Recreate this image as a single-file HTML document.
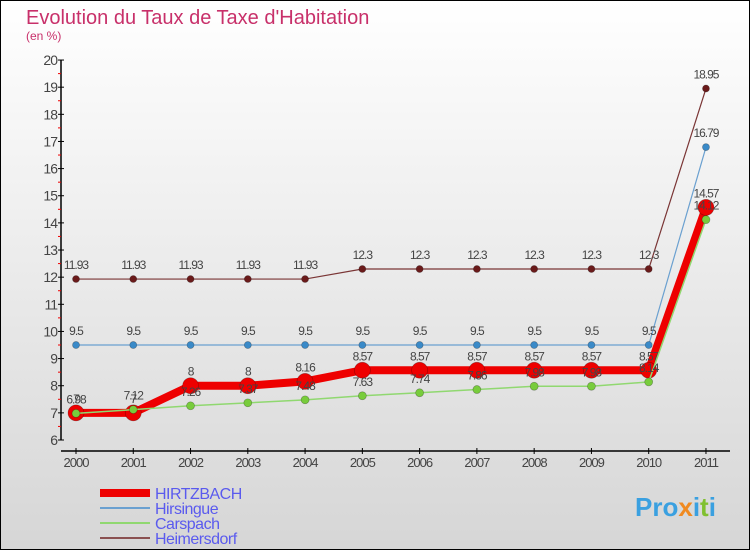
<!DOCTYPE html>
<html><head><meta charset="utf-8"><style>
body{margin:0;}
#c{width:750px;height:550px;position:relative;overflow:hidden;box-sizing:border-box;border:1px solid #000;background:linear-gradient(#ffffff,#d6d6d6);font-family:"Liberation Sans",sans-serif;}
</style></head><body>
<div id="c">
<svg id="s" width="750" height="550" style="position:absolute;left:-1px;top:-1px">
<text x="26" y="24" font-size="20" fill="#c8306a">Evolution du Taux de Taxe d'Habitation</text>
<text x="26" y="40" font-size="12" fill="#c8306a">(en %)</text>
<g id="g"></g>
<text x="635" y="516" font-size="26" font-weight="bold" fill="#3aa0e0">Pro<tspan fill="#f08a20">x</tspan><tspan fill="#3aa0e0">i</tspan><tspan fill="#80c030">t</tspan><tspan fill="#3aa0e0">i</tspan></text>
</svg>
</div>
<script>
const years=[2000,2001,2002,2003,2004,2005,2006,2007,2008,2009,2010,2011];
const hirtzbach=[7,7,8,8,8.16,8.57,8.57,8.57,8.57,8.57,8.57,14.57];
const hirsingue=[9.5,9.5,9.5,9.5,9.5,9.5,9.5,9.5,9.5,9.5,9.5,16.79];
const carspach=[6.98,7.12,7.26,7.37,7.48,7.63,7.74,7.86,7.98,7.98,8.14,14.12];
const heimersdorf=[11.93,11.93,11.93,11.93,11.93,12.3,12.3,12.3,12.3,12.3,12.3,18.95];
const yTicks=[6,7,8,9,10,11,12,13,14,15,16,17,18,19,20];
const NS="http://www.w3.org/2000/svg";
const g=document.getElementById('g');
const X=i=>76+i*57.27, Y=v=>440-(v-6)*27.14;
function el(t,a,p){const e=document.createElementNS(NS,t);for(const k in a)e.setAttribute(k,a[k]);(p||g).appendChild(e);return e;}
let ax=el('line',{x1:61,y1:60,x2:61,y2:440,stroke:'#000','stroke-width':1.5});


let bx=el('line',{x1:61,y1:451,x2:730,y2:451,stroke:'#000','stroke-width':1.5});


yTicks.forEach(v=>{
 el('line',{x1:58,y1:Y(v),x2:64,y2:Y(v),stroke:'#000'});
 if(v<20) el('line',{x1:58,y1:Y(v+0.5),x2:61,y2:Y(v+0.5),stroke:'#e00'});
 const t=el('text',{x:57,y:Y(v)+5,'font-size':14,fill:'#444','text-anchor':'end','letter-spacing':-1});t.textContent=v;
 
 
});
years.forEach((y,i)=>{
 el('line',{x1:X(i),y1:448,x2:X(i),y2:454,stroke:'#000'});
 const t=el('text',{x:X(i),y:467,'font-size':13,fill:'#444','text-anchor':'middle','letter-spacing':-1});t.textContent=y;
 
 
});
function series(d,col,w,r,name,dot){
 const p=el('polyline',{points:d.map((v,i)=>X(i)+','+Y(v)).join(' '),fill:'none',stroke:col,'stroke-width':w});
 
 
 d.forEach((v,i)=>{
  const c=el('circle',{cx:X(i),cy:Y(v),r:r,fill:dot,stroke:'rgba(0,0,0,0.3)','stroke-width':0.7});
  
  
  const t=el('text',{x:X(i),y:Y(v)-10,'font-size':12,fill:'#444','text-anchor':'middle','letter-spacing':-1});t.textContent=v;
  
  
 });
}
series(heimersdorf,'#7a3535',1.2,3.5,'heimersdorf','#6a1a1a');
series(hirsingue,'#6aa0d0',1.2,3.5,'hirsingue','#3a8ac8');
series(hirtzbach,'#ee0000',8,8,'hirtzbach','#ee0000');
series(carspach,'#90d870',1.5,4,'carspach','#78cc3c');
const leg=[['HIRTZBACH','#ee0000',8],['Hirsingue','#6aa0d0',2],['Carspach','#90d870',2],['Heimersdorf','#8a5050',2]];
leg.forEach((l,i)=>{
 const y=493+i*15;
 const ln=el('line',{x1:100,y1:y,x2:150,y2:y,stroke:l[1],'stroke-width':l[2]});
 
 
 const t=el('text',{x:155,y:y+6,'font-size':16,fill:'#5a5aee','letter-spacing':-0.5});t.textContent=l[0];
 
 
});
</script>
</body></html>
